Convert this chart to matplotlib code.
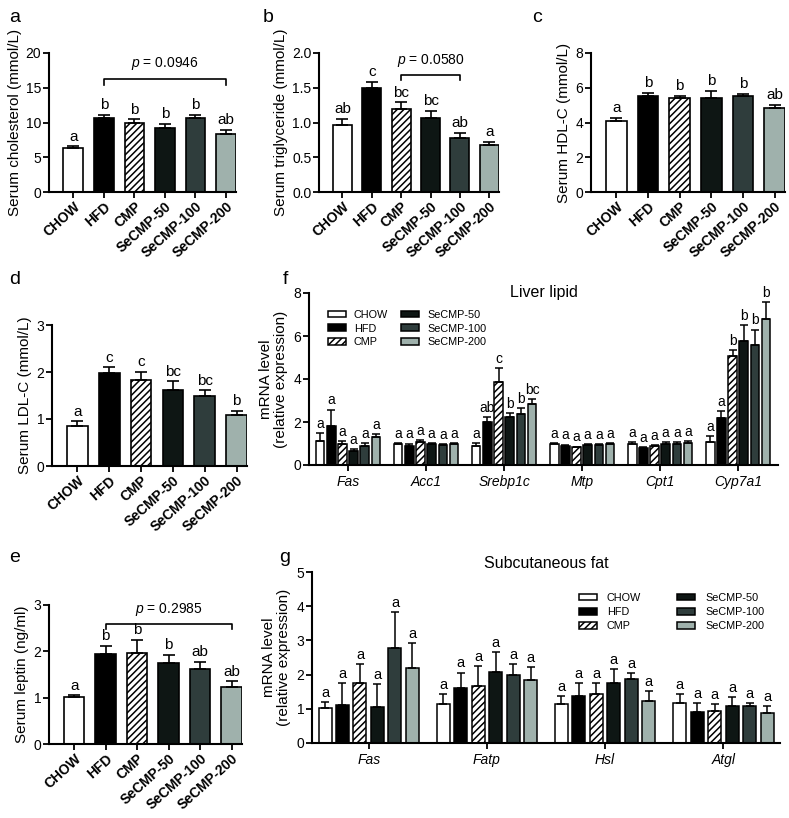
import matplotlib
matplotlib.use("Agg")
import matplotlib.pyplot as plt
from matplotlib.patches import Patch
import numpy as np

plt.rcParams['font.family'] = ['Liberation Sans', 'DejaVu Sans']
plt.rcParams['mathtext.fontset'] = 'custom'
plt.rcParams['mathtext.it'] = 'Liberation Sans:italic'
plt.rcParams['mathtext.rm'] = 'Liberation Sans'
plt.rcParams['hatch.linewidth'] = 1.1

# ---------------- data ----------------
groups = ["CHOW", "HFD", "CMP", "SeCMP-50", "SeCMP-100", "SeCMP-200"]
colors = ["#ffffff", "#000000", "#ffffff", "#0e1614", "#2f3d3c", "#9fb1ac"]
hatches = [None, None, "/////", None, None, None]

chol_mean = [6.4, 10.7, 10.0, 9.15, 10.65, 8.3]
chol_err = [0.15, 0.45, 0.45, 0.6, 0.45, 0.6]
chol_letters = ["a", "b", "b", "b", "b", "ab"]

tg_mean = [0.96, 1.49, 1.20, 1.07, 0.78, 0.67]
tg_err = [0.09, 0.09, 0.09, 0.10, 0.065, 0.055]
tg_letters = ["ab", "c", "bc", "bc", "ab", "a"]

hdl_mean = [4.1, 5.53, 5.42, 5.4, 5.5, 4.81]
hdl_err = [0.16, 0.16, 0.13, 0.4, 0.15, 0.21]
hdl_letters = ["a", "b", "b", "b", "b", "ab"]

ldl_mean = [0.86, 1.97, 1.83, 1.61, 1.48, 1.08]
ldl_err = [0.09, 0.13, 0.17, 0.19, 0.13, 0.1]
ldl_letters = ["a", "c", "c", "bc", "bc", "b"]

lep_mean = [1.01, 1.94, 1.97, 1.75, 1.62, 1.22]
lep_err = [0.04, 0.18, 0.28, 0.17, 0.16, 0.13]
lep_letters = ["a", "b", "b", "b", "ab", "ab"]

liver_genes = ["Fas", "Acc1", "Srebp1c", "Mtp", "Cpt1", "Cyp7a1"]
liver_mean = [
    [1.13, 1.83, 1.00, 0.65, 0.88, 1.28],
    [0.98, 0.90, 1.05, 0.98, 0.93, 0.97],
    [0.88, 2.00, 3.87, 2.21, 2.37, 2.83],
    [0.97, 0.90, 0.82, 0.93, 0.93, 0.97],
    [0.98, 0.80, 0.88, 0.98, 0.98, 1.02],
    [1.08, 2.17, 5.06, 5.77, 5.56, 6.80],
]
liver_err = [
    [0.34, 0.75, 0.11, 0.11, 0.14, 0.16],
    [0.06, 0.10, 0.10, 0.05, 0.05, 0.06],
    [0.16, 0.24, 0.62, 0.19, 0.28, 0.25],
    [0.05, 0.05, 0.04, 0.05, 0.06, 0.04],
    [0.10, 0.04, 0.04, 0.08, 0.10, 0.08],
    [0.28, 0.32, 0.27, 0.72, 0.74, 0.80],
]
liver_letters = [
    ["a", "a", "a", "a", "a", "a"],
    ["a", "a", "a", "a", "a", "a"],
    ["a", "ab", "c", "b", "b", "bc"],
    ["a", "a", "a", "a", "a", "a"],
    ["a", "a", "a", "a", "a", "a"],
    ["a", "a", "b", "b", "b", "b"],
]

fat_genes = ["Fas", "Fatp", "Hsl", "Atgl"]
fat_mean = [
    [1.02, 1.10, 1.75, 1.04, 2.79, 2.20],
    [1.15, 1.62, 1.66, 2.09, 1.98, 1.83],
    [1.13, 1.37, 1.43, 1.75, 1.86, 1.22],
    [1.17, 0.91, 0.95, 1.09, 1.07, 0.88],
]
fat_err = [
    [0.17, 0.65, 0.56, 0.68, 1.03, 0.73],
    [0.27, 0.44, 0.58, 0.56, 0.34, 0.40],
    [0.25, 0.38, 0.32, 0.42, 0.18, 0.29],
    [0.27, 0.26, 0.19, 0.25, 0.10, 0.20],
]
fat_letters = [["a"] * 6 for _ in range(4)]

W, H = 789, 818
fig = plt.figure(figsize=(W / 100, H / 100), dpi=100)


def add_ax(x0, y0, x1, y1):
    return fig.add_axes([x0 / W, 1 - y1 / H, (x1 - x0) / W, (y1 - y0) / H])


def style(ax):
    for s in ["top", "right"]:
        ax.spines[s].set_visible(False)
    for s in ["left", "bottom"]:
        ax.spines[s].set_linewidth(1.5)
    ax.tick_params(width=1.3, length=4, labelsize=10, pad=1.5)


def simple_panel(ax, mean, err, letters, ymax, yticks, ylabel, ytick_fmt=None):
    x = np.arange(len(groups))
    for i in range(len(groups)):
        ax.bar(x[i], mean[i], width=0.65, color=colors[i], edgecolor="black",
               linewidth=1.2, hatch=hatches[i], zorder=2)
        ax.errorbar(x[i], mean[i], yerr=[[0], [err[i]]], fmt="none",
                    ecolor="black", elinewidth=1.2, capsize=4, capthick=1.2, zorder=3)
        ax.annotate(letters[i], (x[i], mean[i] + err[i]), xytext=(0, 2),
                    textcoords="offset points", ha="center", va="bottom", fontsize=11)
    ax.set_xlim(-0.8, 5.33)
    ax.set_ylim(0, ymax)
    ax.set_yticks(yticks)
    if ytick_fmt:
        ax.set_yticklabels([ytick_fmt.format(v) for v in yticks])
    ax.set_xticks(x)
    ax.set_xticklabels(groups, rotation=42, ha="right", rotation_mode="anchor",
                       fontweight="bold", fontsize=9)
    ax.set_ylabel(ylabel, fontsize=11, labelpad=3)
    style(ax)


def bracket(ax, i0, i1, y, drop, text, ty):
    ax.plot([i0, i0, i1, i1], [y - drop, y, y, y - drop], color="black", lw=1.2,
            clip_on=False)
    ax.text((i0 + i1) / 2, ty, text, ha="center", va="center", fontsize=10)


# panel a
ax = add_ax(49, 53, 236, 192)
simple_panel(ax, chol_mean, chol_err, chol_letters, 20, [0, 5, 10, 15, 20],
             "Serum cholesterol (mmol/L)")
bracket(ax, 1, 5, 16.3, 0.9, "$p$ = 0.0946", 18.5)

# panel b
ax = add_ax(319, 53, 499, 192)
simple_panel(ax, tg_mean, tg_err, tg_letters, 2.0, [0, 0.5, 1.0, 1.5, 2.0],
             "Serum triglyceride (mmol/L)", "{:.1f}")
bracket(ax, 2, 4, 1.69, 0.08, "$p$ = 0.0580", 1.89)

# panel c
ax = add_ax(591, 53, 785, 192)
simple_panel(ax, hdl_mean, hdl_err, hdl_letters, 8, [0, 2, 4, 6, 8],
             "Serum HDL-C (mmol/L)")

# panel d
ax = add_ax(52, 325, 247, 466)
simple_panel(ax, ldl_mean, ldl_err, ldl_letters, 3, [0, 1, 2, 3],
             "Serum LDL-C (mmol/L)")

# panel e
ax = add_ax(49, 605, 242, 744)
simple_panel(ax, lep_mean, lep_err, lep_letters, 3, [0, 1, 2, 3],
             "Serum leptin (ng/ml)")
bracket(ax, 1, 5, 2.6, 0.12, "$p$ = 0.2985", 2.9)


def gene_panel(ax, genes, mean, err, letters, pitch, width, xlim, ymax, yticks, lfs):
    n = len(groups)
    for g in range(len(genes)):
        for i in range(n):
            xx = g + (i - (n - 1) / 2) * pitch
            ax.bar(xx, mean[g][i], width=width, color=colors[i], edgecolor="black",
                   linewidth=1.1, hatch=hatches[i], zorder=2)
            ax.errorbar(xx, mean[g][i], yerr=[[0], [err[g][i]]], fmt="none",
                        ecolor="black", elinewidth=1.1, capsize=3, capthick=1.1, zorder=3)
            ax.annotate(letters[g][i], (xx, mean[g][i] + err[g][i]), xytext=(0, 1.5),
                        textcoords="offset points", ha="center", va="bottom", fontsize=lfs)
    ax.set_xlim(*xlim)
    ax.set_ylim(0, ymax)
    ax.set_yticks(yticks)
    ax.set_xticks(np.arange(len(genes)))
    ax.set_xticklabels(genes, fontstyle="italic", fontsize=11)
    ax.set_ylabel("mRNA level\n(relative expression)", fontsize=11, labelpad=4,
                  linespacing=1.1)
    style(ax)
    ax.tick_params(axis="x", pad=3)


handles = [Patch(facecolor=colors[i], edgecolor="black", hatch=hatches[i],
                 linewidth=1.1, label=groups[i]) for i in range(len(groups))]

# panel f
ax = add_ax(309, 293, 778, 465)
gene_panel(ax, liver_genes, liver_mean, liver_err, liver_letters, 0.143, 0.11,
           (-0.5, 5.51), 8, [0, 2, 4, 6, 8], 10)
ax.text(0.5, 1.0, "Liver lipid", transform=ax.transAxes, ha="center", va="center",
        fontsize=11.5)
fig.legend(handles=handles, ncol=2, frameon=False, fontsize=7.8,
           handlelength=1.7, handleheight=0.55, handletextpad=0.7,
           columnspacing=1.2, labelspacing=0.35,
           loc="upper left", bbox_to_anchor=(318 / W, 1 - 300 / H))

# panel g
ax = add_ax(312, 572, 780, 743)
gene_panel(ax, fat_genes, fat_mean, fat_err, fat_letters, 0.148, 0.11,
           (-0.48, 3.48), 5, [0, 1, 2, 3, 4, 5], 10.5)
ax.text(0.5, 1 + 9 / 171, "Subcutaneous fat", transform=ax.transAxes, ha="center",
        va="center", fontsize=11.5)
fig.legend(handles=handles, ncol=2, frameon=False, fontsize=7.8,
           handlelength=1.7, handleheight=0.55, handletextpad=0.9,
           columnspacing=3.3, labelspacing=0.4,
           loc="upper left", bbox_to_anchor=(569 / W, 1 - 583 / H))

# panel letters
for lab, (px, py) in {"a": (15, 17), "b": (268, 17), "c": (537, 17), "d": (15, 280),
                      "f": (285, 280), "e": (15, 557), "g": (285, 557)}.items():
    fig.text(px / W, 1 - py / H, lab, fontsize=14, ha="center", va="center")

fig.savefig("out.png", dpi=100)
